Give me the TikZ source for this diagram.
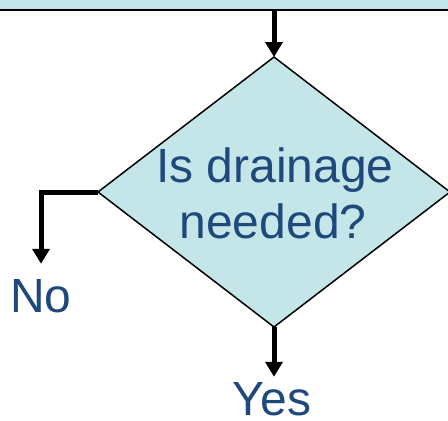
\documentclass[tikz,border=0pt]{standalone}
\usepackage{fontspec}
\setmainfont{Liberation Sans}
\usetikzlibrary{shapes.geometric,arrows.meta}
\definecolor{boxfill}{RGB}{197,230,232}
\definecolor{txtblue}{RGB}{31,73,125}
\tikzset{
  flowbox/.style={draw=black,fill=boxfill,line width=1.5pt},
  flowarrow/.style={draw=black,line width=5pt,-{Triangle[width=17pt,length=15pt]}},
  bigtext/.style={text=txtblue,font=\fontsize{48}{56}\selectfont,inner sep=0pt,anchor=base}
}
\begin{document}
\begin{tikzpicture}[x=1pt,y=1pt]
\useasboundingbox (0,0) rectangle (448,-421);
\node (box) [fill=boxfill, rectangle, minimum width=448pt, minimum height=10pt, inner sep=0pt, outer sep=0pt, anchor=north west] at (0,0) {};
\draw[line width=2.5pt] (box.south west) -- (box.south east);
\node (d) [flowbox, diamond, minimum width=352pt, minimum height=270pt, inner sep=0pt, outer sep=0pt] at (274,-192) {};
\node (q1) [bigtext] at (275,-182) {Is drainage};
\node (q2) [bigtext] at (273,-238) {needed?};
\node (no) [bigtext] at (41,-312) {No};
\node (yes) [bigtext] at (272,-415) {Yes};
\draw[flowarrow] (d.north |- box.south) -- (d.north);
\draw[flowarrow, shorten >=15pt] (d.west) -| (no.north);
\draw[flowarrow, shorten >=5pt] (d.south) -- (d.south |- yes.north);
\end{tikzpicture}
\end{document}
